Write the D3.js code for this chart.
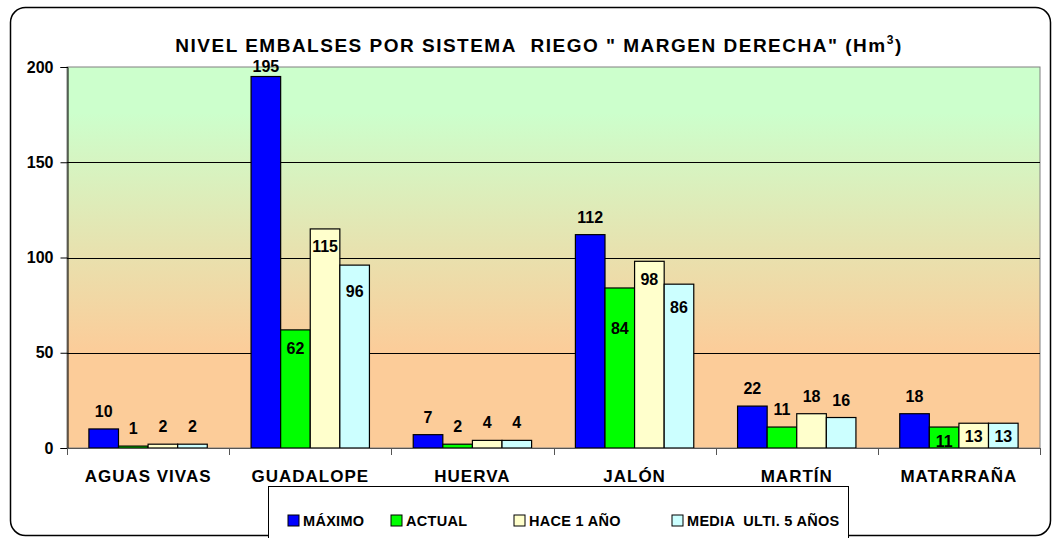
<!DOCTYPE html>
<html>
<head>
<meta charset="utf-8">
<script src="https://cdn.jsdelivr.net/npm/d3@7"></script>
<style>
  body { margin: 0; background: #fff; }
  svg { display: block; font-family: Arial, "Liberation Sans", sans-serif; font-weight: bold; }
</style>
</head>
<body>
<div id="chart"></div>
<script>
const categories = ['AGUAS VIVAS', 'GUADALOPE', 'HUERVA', 'JALÓN', 'MARTÍN', 'MATARRAÑA']
const seriesNames = ['MÁXIMO', 'ACTUAL', 'HACE 1 AÑO', 'MEDIA  ULTI. 5 AÑOS']
const maximo = [10, 195, 7, 112, 22, 18]
const actual = [1, 62, 2, 84, 11, 11]
const hace1 = [2, 115, 4, 98, 18, 13]
const media5 = [2, 96, 4, 86, 16, 13]
const yTicks = [0, 50, 100, 150, 200]

const seriesValues = [maximo, actual, hace1, media5]
const colors = ['#0000ff', '#00ff00', '#ffffcc', '#ccffff']

// label baseline nudges (px from bar top, + is down); default sits above the bar
const labelNudge = {
  '1-0': -5, '1-1': 24, '1-2': 23, '1-3': 32,
  '3-1': 46, '3-2': 24, '3-3': 29,
  '5-1': 20, '5-2': 19, '5-3': 19
}

const width = 1055
const height = 538
const plot = {left: 67, right: 1040, top: 67, bottom: 448}

const svg = d3.select('#chart')
  .append('svg')
  .attr('width', width)
  .attr('height', height)

const defs = svg.append('defs')
const grad = defs.append('linearGradient')
  .attr('id', 'bg')
  .attr('x1', 0).attr('y1', 0).attr('x2', 0).attr('y2', 1)
grad.append('stop').attr('offset', '0').attr('stop-color', '#ccffcc')
grad.append('stop').attr('offset', '0.12').attr('stop-color', '#ccffcc')
grad.append('stop').attr('offset', '0.75').attr('stop-color', '#fccc99')
grad.append('stop').attr('offset', '1').attr('stop-color', '#fccc99')

// outer chart frame
svg.append('rect')
  .attr('x', 10.5).attr('y', 7.5)
  .attr('width', 1040).attr('height', 528)
  .attr('rx', 15)
  .attr('fill', '#fff')
  .attr('stroke', '#000')
  .attr('stroke-width', 1.5)

const y = d3.scaleLinear().domain([0, 200]).range([plot.bottom, plot.top])
const x0 = d3.scaleBand().domain(categories).range([plot.left, plot.right])
const x1 = d3.scaleBand().domain(d3.range(seriesNames.length))
  .range([0, x0.bandwidth()])
  .paddingOuter(0.74)

// plot background
svg.append('rect')
  .attr('x', plot.left).attr('y', plot.top)
  .attr('width', plot.right - plot.left)
  .attr('height', plot.bottom - plot.top)
  .attr('fill', 'url(#bg)')
  .attr('stroke', '#808080')

// gridlines
svg.append('g')
  .selectAll('line')
  .data(yTicks.filter(t => t > 0 && t < 200))
  .join('line')
  .attr('x1', plot.left).attr('x2', plot.right)
  .attr('y1', d => Math.round(y(d)) + 0.5)
  .attr('y2', d => Math.round(y(d)) + 0.5)
  .attr('stroke', '#000')

// y axis
const yAxis = svg.append('g')
  .attr('transform', `translate(${plot.left + 0.5},0)`)
  .call(d3.axisLeft(y).tickValues(yTicks).tickSize(7).tickPadding(7))
yAxis.select('.domain').attr('stroke', '#000')
yAxis.selectAll('.tick line').attr('stroke', '#000')
yAxis.selectAll('.tick text')
  .attr('font-size', 16)
  .attr('font-weight', 'bold')
  .attr('font-family', 'Arial, "Liberation Sans", sans-serif')
  .attr('fill', '#000')

// bars
const groups = svg.append('g')
  .selectAll('g')
  .data(categories)
  .join('g')
  .attr('transform', d => `translate(${x0(d)},0)`)

groups.selectAll('rect')
  .data((c, ci) => seriesValues.map((vals, si) => ({ci, si, v: vals[ci]})))
  .join('rect')
  .attr('x', d => x1(d.si))
  .attr('y', d => y(d.v))
  .attr('width', x1.bandwidth())
  .attr('height', d => y(0) - y(d.v))
  .attr('fill', d => colors[d.si])
  .attr('stroke', '#000')
  .attr('stroke-width', 1.2)

groups.selectAll('text')
  .data((c, ci) => seriesValues.map((vals, si) => ({ci, si, v: vals[ci]})))
  .join('text')
  .attr('x', d => x1(d.si) + x1.bandwidth() / 2)
  .attr('y', d => {
    const nudge = labelNudge[`${d.ci}-${d.si}`]
    return y(d.v) + (nudge !== undefined ? nudge : -12)
  })
  .attr('text-anchor', 'middle')
  .attr('font-size', 16)
  .text(d => d.v)

// x axis
svg.append('line')
  .attr('x1', plot.left).attr('x2', plot.right)
  .attr('y1', plot.bottom + 0.5).attr('y2', plot.bottom + 0.5)
  .attr('stroke', '#555')
svg.append('g')
  .selectAll('line')
  .data(d3.range(categories.length + 1))
  .join('line')
  .attr('x1', i => Math.round(plot.left + i * x0.step()) + 0.5)
  .attr('x2', i => Math.round(plot.left + i * x0.step()) + 0.5)
  .attr('y1', plot.bottom)
  .attr('y2', plot.bottom + 7)
  .attr('stroke', '#555')
svg.append('g')
  .selectAll('text')
  .data(categories)
  .join('text')
  .attr('x', d => x0(d) + x0.bandwidth() / 2)
  .attr('y', 482)
  .attr('text-anchor', 'middle')
  .attr('font-size', 17)
  .attr('letter-spacing', 1)
  .text(d => d)

// title
const title = svg.append('text')
  .attr('x', 539)
  .attr('y', 52)
  .attr('text-anchor', 'middle')
  .attr('font-size', 19)
  .attr('letter-spacing', 1.5)
title.append('tspan').text('NIVEL EMBALSES POR SISTEMA\u00a0\u00a0RIEGO " MARGEN DERECHA" (Hm')
title.append('tspan').attr('dy', -8).attr('font-size', 12).text('3')
title.append('tspan').attr('dy', 8).text(')')

// legend
const legend = svg.append('g')
legend.append('rect')
  .attr('x', 268.5).attr('y', 486.5)
  .attr('width', 580).attr('height', 70)
  .attr('fill', '#fff')
  .attr('stroke', '#000')
const legendX = [288, 391, 514, 672]
const items = legend.selectAll('g')
  .data(seriesNames)
  .join('g')
  .attr('transform', (d, i) => `translate(${legendX[i]},515)`)
items.append('rect')
  .attr('width', 11).attr('height', 11)
  .attr('fill', (d, i) => colors[i])
  .attr('stroke', '#000')
items.append('text')
  .attr('x', 15)
  .attr('y', 11)
  .attr('font-size', 14.5)
  .attr('letter-spacing', 0.3)
  .style('white-space', 'pre')
  .text(d => d)
</script>
</body>
</html>
